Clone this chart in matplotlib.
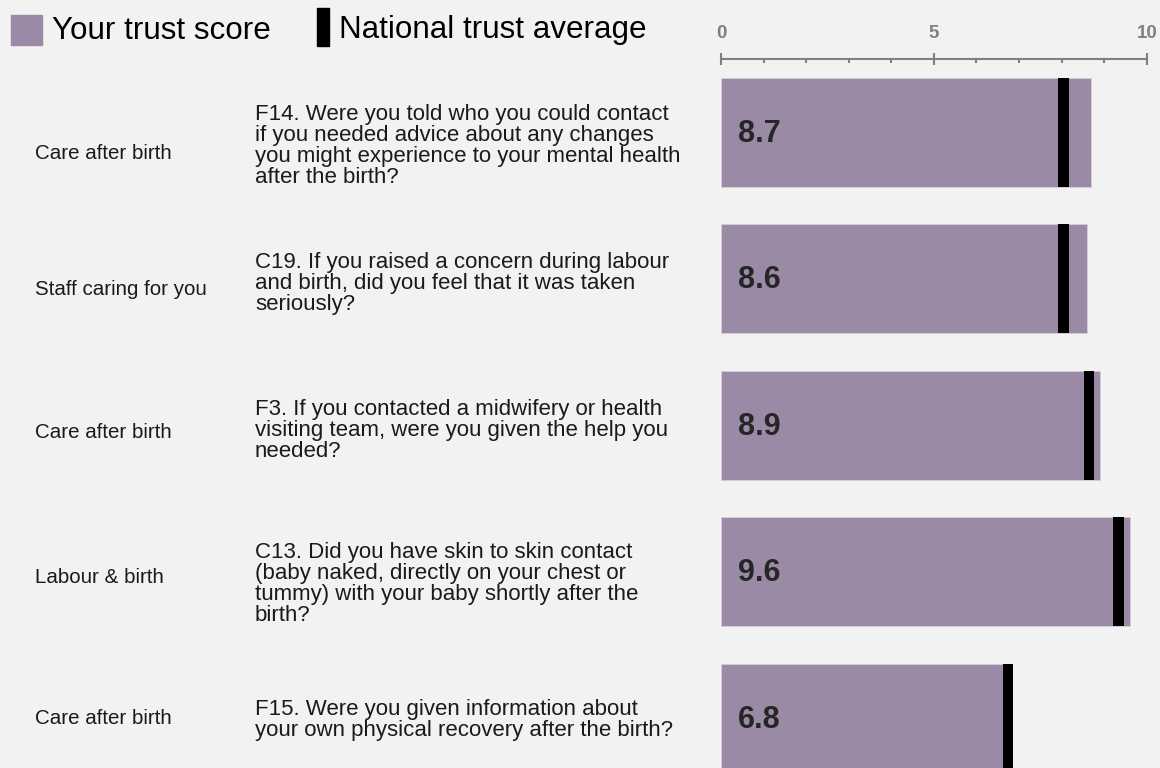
import matplotlib.pyplot as plt
from matplotlib.patches import Rectangle
from matplotlib.ticker import MultipleLocator

plt.rcParams["font.family"] = ["Liberation Sans", "DejaVu Sans"]

# dati
sezioni = ["Care after birth", "Staff caring for you", "Care after birth",
           "Labour & birth", "Care after birth"]
domande = [
    "F14. Were you told who you could contact\nif you needed advice about any changes\n"
    "you might experience to your mental health\nafter the birth?",
    "C19. If you raised a concern during labour\nand birth, did you feel that it was taken\nseriously?",
    "F3. If you contacted a midwifery or health\nvisiting team, were you given the help you\nneeded?",
    "C13. Did you have skin to skin contact\n(baby naked, directly on your chest or\n"
    "tummy) with your baby shortly after the\nbirth?",
    "F15. Were you given information about\nyour own physical recovery after the birth?",
]
punteggio = [8.7, 8.6, 8.9, 9.6, 6.8]
media_naz = [8.04, 8.04, 8.64, 9.34, 6.74]

# spostamenti verticali (pixel) dei testi rispetto al centro della barra
off_sez = [21, 11, 7, 6, 0]
off_dom = [14, 5, 5, 12, 2]

VIOLA = "#9b8aa5"
SFONDO = "#f2f2f2"
GRIGIO = "#808080"

fig = plt.figure(figsize=(11.6, 7.68), dpi=100, facecolor=SFONDO)
ax = fig.add_axes([0.6216, 0.0, 0.367, 0.9232], facecolor=SFONDO)

y = list(range(len(punteggio)))
h = 0.743
ax.barh(y, punteggio, height=h, color=VIOLA, edgecolor="#d6cddb", linewidth=0.6)
ax.barh(y, [0.25] * len(y), left=[m - 0.125 for m in media_naz], height=h,
        color="black", linewidth=0)

for i, v in enumerate(punteggio):
    ax.annotate(f"{v:.1f}", (0, i), xytext=(12, -1), textcoords="offset points",
                ha="left", va="center", fontsize=22, fontweight="bold", color="#262626")

# testi a sinistra
for i in y:
    ax.annotate(sezioni[i], (0, i), xycoords=("figure fraction", "data"),
                xytext=(35, -off_sez[i]), textcoords="offset pixels",
                ha="left", va="center", fontsize=14.8, color="#1a1a1a")
    ax.annotate(domande[i], (0, i), xycoords=("figure fraction", "data"),
                xytext=(255, -off_dom[i]), textcoords="offset pixels",
                ha="left", va="center", fontsize=16, color="#1a1a1a", linespacing=1.0)

ax.set_xlim(0, 10)
ax.set_ylim(4.338, -0.5)
ax.xaxis.tick_top()
ax.xaxis.set_major_locator(MultipleLocator(5))
ax.xaxis.set_minor_locator(MultipleLocator(1))
ax.tick_params(axis="x", which="major", direction="inout", length=8, width=1.5,
               color=GRIGIO, labelcolor=GRIGIO, labelsize=13.5, pad=8)
ax.tick_params(axis="x", which="minor", direction="in", length=3, width=1.5, color=GRIGIO)
for lab in ax.get_xticklabels():
    lab.set_fontweight("bold")
ax.set_yticks([])
for s in ["right", "left", "bottom"]:
    ax.spines[s].set_visible(False)
ax.spines["top"].set_color(GRIGIO)
ax.spines["top"].set_linewidth(1.5)

# legenda
fig.add_artist(Rectangle((11 / 1160, 1 - 45 / 768), 31 / 1160, 30 / 768,
                         transform=fig.transFigure, color=VIOLA))
fig.text(52 / 1160, 1 - 31 / 768, "Your trust score", fontsize=22.6, va="center",
         color="black")
fig.add_artist(Rectangle((317 / 1160, 1 - 46 / 768), 12 / 1160, 38 / 768,
                         transform=fig.transFigure, color="black"))
fig.text(339 / 1160, 1 - 30 / 768, "National trust average", fontsize=22.6,
         va="center", color="black")

fig.savefig("out.png", dpi=100, facecolor=SFONDO)
